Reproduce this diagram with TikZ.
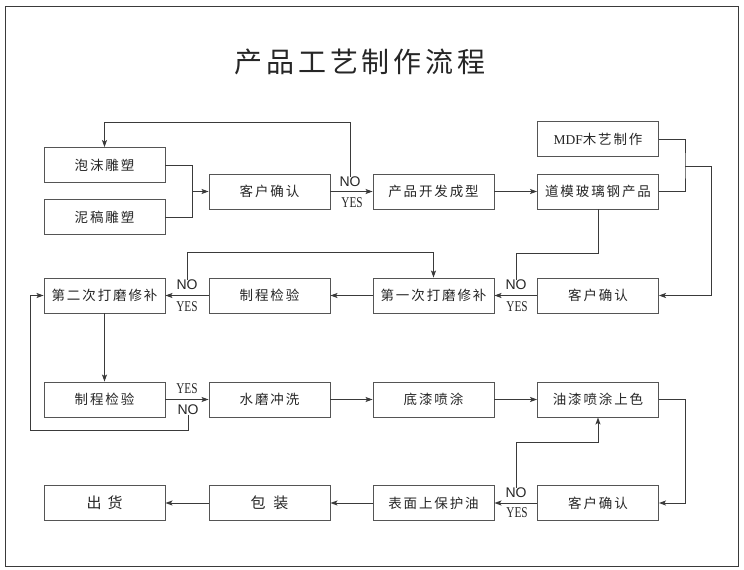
\documentclass[tikz,border=0pt]{standalone}
\usepackage{fontspec}
\setmainfont{Liberation Serif}
\newfontfamily\cjkfont[LetterSpace=14]{Noto Sans CJK SC}
\newfontfamily\titlefont[LetterSpace=14]{Noto Sans CJK SC}
\newfontfamily\nofont{Liberation Sans}
\usetikzlibrary{arrows.meta}
\definecolor{lc}{HTML}{3A3A3A}
\definecolor{bc}{HTML}{555555}
\definecolor{tc}{HTML}{262626}
\begin{document}
\begin{tikzpicture}[x=1pt,y=-1pt,
  box/.style={draw=bc, line width=0.9pt, minimum width=121pt, minimum height=35pt, inner sep=0pt, text=tc, font=\cjkfont\fontsize{13.5}{15}\selectfont},
  conn/.style={draw=lc, line width=0.9pt},
  arr/.style={conn, -{Stealth[length=7pt,width=5pt,inset=1.5pt]}},
  nolab/.style={font=\nofont\fontsize{14}{15}\selectfont, text=tc, inner sep=0pt},
  yeslab/.style={font=\rmfamily\fontsize{15}{16}\selectfont, text=tc, inner sep=0pt}
]
\useasboundingbox (0,0) rectangle (744,570);
\fill[white] (0,0) rectangle (744,570);
\draw[draw=lc, line width=1pt] (5,6) rectangle (738,566);

\node[font=\titlefont\fontsize{28}{30}\selectfont, text=tc] (title) at (360,62) {产品工艺制作流程};

% row 1
\node[box] (paomo) at (104.5,165) {泡沫雕塑};
\node[box] (nigao) at (104.5,217) {泥稿雕塑};
\node[box] (kehu1) at (269.5,191.5) {客户确认};
\node[box] (chanpin) at (433.5,191.5) {产品开发成型};
\node[box] (daomo) at (598,191.5) {道模玻璃钢产品};
\node[box] (mdf) at (598,139) {{\rmfamily\fontsize{13.5}{15}\selectfont MDF}木艺制作};

% row 2
\node[box] (erci) at (104.5,295.5) {第二次打磨修补};
\node[box] (zhicheng1) at (269.5,295.5) {制程检验};
\node[box] (yici) at (433.5,295.5) {第一次打磨修补};
\node[box] (kehu2) at (598,295.5) {客户确认};

% row 3
\node[box] (zhicheng2) at (104.5,399.5) {制程检验};
\node[box] (shuimo) at (269.5,399.5) {水磨冲洗};
\node[box] (diqi) at (433.5,399.5) {底漆喷涂};
\node[box] (youqi) at (598,399.5) {油漆喷涂上色};

% row 4
\node[box, font=\cjkfont\fontsize{15}{16}\selectfont] (chuhuo) at (104.5,503) {出\hspace{6pt}货};
\node[box, font=\cjkfont\fontsize{15}{16}\selectfont] (baozhuang) at (269.5,503) {包\hspace{8pt}装};
\node[box] (biaomian) at (433.5,503) {表面上保护油};
\node[box] (kehu3) at (598,503) {客户确认};

% labels
\node[nolab] (no1) at (350,182) {NO};
\node[yeslab] (yes1) at (352,203) {\scalebox{0.75}[1]{YES}};
\node[nolab] (no2l) at (187,285) {NO};
\node[yeslab] (yes2l) at (187,307) {\scalebox{0.75}[1]{YES}};
\node[nolab] (no2r) at (516,285) {NO};
\node[yeslab] (yes2r) at (517,307) {\scalebox{0.75}[1]{YES}};
\node[yeslab] (yes3) at (187,389) {\scalebox{0.75}[1]{YES}};
\node[nolab] (no3) at (188,410) {NO};
\node[nolab] (no4) at (516,493) {NO};
\node[yeslab] (yes4) at (517,513) {\scalebox{0.75}[1]{YES}};

% coordinates
\coordinate (j1) at (192,191.5);
\coordinate (t1) at (350,122);
\coordinate (j2) at (685,166);
\coordinate (j3) at (711,166);
\coordinate (t2) at (598,253);
\coordinate (t3) at (433.5,252);
\coordinate (t4) at (30,430);
\coordinate (r4) at (685,503);
\coordinate (t6) at (598,442);

% row 1 connectors
\draw[conn] (paomo.east) -| (j1);
\draw[conn] (nigao.east) -| (j1);
\draw[arr] (j1) -- (kehu1.west);
\draw[arr] (kehu1.east) -- (chanpin.west);
\draw[arr] (no1.north) -- (t1) -| (paomo.north);
\draw[arr] (chanpin.east) -- (daomo.west);
\draw[conn] (mdf.east) -| (j2) |- (daomo.east);
\draw[arr] (j2) -- (j3) |- (kehu2.east);

% row 2 connectors
\draw[arr] (kehu2.west) -- (yici.east);
\draw[conn] (no2r.north) |- (t2) -- (daomo.south);
\draw[arr] (yici.west) -- (zhicheng1.east);
\draw[arr] (zhicheng1.west) -- (erci.east);
\draw[arr] (no2l.north) |- (t3) -- (yici.north);
\draw[arr] (erci.south) -- (zhicheng2.north);

% row 3 connectors
\draw[arr] (zhicheng2.east) -- (shuimo.west);
\draw[arr] (no3.south) |- (t4) |- (erci.west);
\draw[arr] (shuimo.east) -- (diqi.west);
\draw[arr] (diqi.east) -- (youqi.west);
\draw[arr] (youqi.east) -| (r4) -- (kehu3.east);

% row 4 connectors
\draw[arr] (kehu3.west) -- (biaomian.east);
\draw[arr] (no4.north) |- (t6) -- (youqi.south);
\draw[arr] (biaomian.west) -- (baozhuang.east);
\draw[arr] (baozhuang.west) -- (chuhuo.east);
\end{tikzpicture}
\end{document}
